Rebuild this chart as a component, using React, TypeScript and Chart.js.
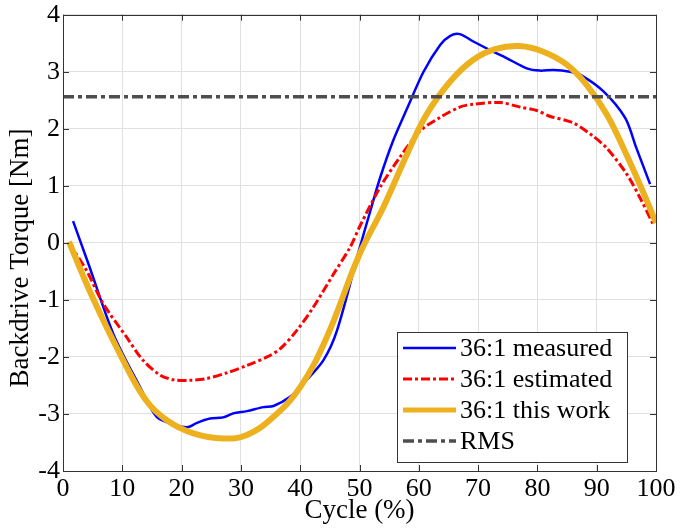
import React, { useEffect, useRef } from "react";
import { Chart, registerables } from "chart.js";

Chart.register(...registerables);

const FONT = "'Liberation Serif', 'Times New Roman', serif";

const xTicks = [0, 10, 20, 30, 40, 50, 60, 70, 80, 90, 100];
const yTicks = [-4, -3, -2, -1, 0, 1, 2, 3, 4];

const measuredX = [1.7, 4.3, 8.5, 13, 15.8, 19.2, 21.1, 22.5, 24.8, 27, 28.7, 31, 33.8, 35.5, 38.3, 40.5, 43.9, 46.2, 50, 51.8, 53.5, 55.7, 58, 60.8, 63.6, 65.3, 66.9, 69.2, 72, 74.8, 78.2, 80.4, 82.7, 85.5, 87.2, 91.1, 94.8, 96.7, 99];
const measuredY = [0.38, -0.37, -1.6, -2.53, -3.05, -3.2, -3.23, -3.16, -3.08, -3.06, -2.99, -2.95, -2.88, -2.86, -2.7, -2.47, -2.06, -1.54, -0.1, 0.55, 1.15, 1.8, 2.35, 3.0, 3.47, 3.63, 3.66, 3.53, 3.38, 3.24, 3.06, 3.02, 3.03, 3.0, 2.95, 2.66, 2.19, 1.66, 1.03];

const estimatedX = [1, 4, 6.8, 10.7, 13.5, 16.4, 18.6, 21.4, 24.2, 27.6, 31, 34.4, 36.6, 39.4, 42.2, 45.6, 48.4, 50.1, 53.5, 56.8, 60.2, 63.6, 66.9, 69.2, 73.7, 77.1, 79.9, 82.1, 86.1, 89.4, 91.7, 95.1, 97.3, 99.5];
const estimatedY = [0.0, -0.49, -1.07, -1.65, -2.06, -2.32, -2.4, -2.41, -2.38, -2.28, -2.15, -2.0, -1.86, -1.54, -1.13, -0.55, -0.08, 0.3, 0.98, 1.5, 1.96, 2.2, 2.38, 2.43, 2.46, 2.38, 2.32, 2.22, 2.1, 1.87, 1.66, 1.2, 0.79, 0.33];

const thisWorkX = [1, 5, 10, 14, 17.5, 22, 27, 31, 35.5, 40, 44.5, 50, 54, 58, 61.3, 65.3, 69.2, 73, 77, 81, 85, 88.3, 91.7, 95, 98, 100];
const thisWorkY = [0.02, -0.96, -2.03, -2.76, -3.11, -3.34, -3.43, -3.37, -3.05, -2.53, -1.65, -0.2, 0.62, 1.55, 2.25, 2.83, 3.21, 3.4, 3.45, 3.35, 3.12, 2.77, 2.25, 1.55, 0.85, 0.35];

const rmsX = [0, 100];
const rmsY = [2.56, 2.56];

const labels = ["36:1 measured", "36:1 estimated", "36:1 this work", "RMS"];
const xTitle = "Cycle (%)";
const yTitle = "Backdrive Torque [Nm]";

const pts = (xs: number[], ys: number[]) => xs.map((x, i) => ({ x, y: ys[i] }));

const boxPlugin = {
  id: "boxTicks",
  afterDatasetsDraw(chart: any) {
    const { ctx, chartArea: a, scales } = chart;
    const xs = scales.x;
    const ys = scales.y;
    ctx.save();
    ctx.strokeStyle = "#333333";
    ctx.lineWidth = 1;
    ctx.beginPath();
    const L = 6;
    xTicks.forEach((t) => {
      const px = Math.round(xs.getPixelForValue(t)) + 0.5;
      ctx.moveTo(px, a.bottom);
      ctx.lineTo(px, a.bottom - L);
      ctx.moveTo(px, a.top);
      ctx.lineTo(px, a.top + L);
    });
    yTicks.forEach((t) => {
      const py = Math.round(ys.getPixelForValue(t)) + 0.5;
      ctx.moveTo(a.left, py);
      ctx.lineTo(a.left + L, py);
      ctx.moveTo(a.right, py);
      ctx.lineTo(a.right - L, py);
    });
    ctx.stroke();
    ctx.strokeRect(Math.round(a.left) + 0.5, Math.round(a.top) + 0.5, Math.round(a.right - a.left), Math.round(a.bottom - a.top));
    ctx.fillStyle = "#000";
    ctx.font = `27px ${FONT}`;
    ctx.textAlign = "center";
    ctx.textBaseline = "middle";
    ctx.translate(21, 258);
    ctx.rotate(-Math.PI / 2);
    ctx.fillText(yTitle, 0, 0);
    ctx.restore();
  },
};

const legendPlugin = {
  id: "insideLegend",
  afterDraw(chart: any) {
    const { ctx } = chart;
    const bx = 397, by = 332, bw = 230, bh = 130;
    ctx.save();
    ctx.fillStyle = "#ffffff";
    ctx.fillRect(bx, by, bw, bh);
    ctx.strokeStyle = "#333333";
    ctx.lineWidth = 1;
    ctx.strokeRect(bx + 0.5, by + 0.5, bw, bh);
    const rowY = [348, 379, 410, 441];
    chart.data.datasets.forEach((ds: any, i: number) => {
      const y = rowY[i];
      ctx.save();
      ctx.strokeStyle = ds.borderColor;
      ctx.lineWidth = Math.min(ds.borderWidth, 5);
      ctx.setLineDash(ds.borderDash || []);
      ctx.beginPath();
      ctx.moveTo(403, y);
      ctx.lineTo(456, y);
      ctx.stroke();
      ctx.restore();
      ctx.fillStyle = "#000000";
      ctx.font = `26px ${FONT}`;
      ctx.textBaseline = "middle";
      ctx.textAlign = "left";
      ctx.fillText(labels[i], 460, y + 1);
    });
    ctx.restore();
  },
};

export default function App() {
  const ref = useRef<HTMLCanvasElement | null>(null);
  useEffect(() => {
    if (!ref.current) return;
    const chart = new Chart(ref.current, {
      type: "line",
      data: {
        datasets: [
          {
            label: labels[0],
            data: pts(measuredX, measuredY),
            borderColor: "#0000ff",
            borderWidth: 2.5,
            pointRadius: 0,
            tension: 0.3,
            order: 4,
          },
          {
            label: labels[1],
            data: pts(estimatedX, estimatedY),
            borderColor: "#ff0000",
            borderWidth: 3,
            borderDash: [9, 3, 3, 3],
            pointRadius: 0,
            tension: 0.3,
            order: 3,
          },
          {
            label: labels[2],
            data: pts(thisWorkX, thisWorkY),
            borderColor: "#edb120",
            borderWidth: 6,
            pointRadius: 0,
            tension: 0.4,
            order: 2,
          },
          {
            label: labels[3],
            data: pts(rmsX, rmsY),
            borderColor: "#4d4d4d",
            borderWidth: 3.5,
            borderDash: [11, 4, 4, 4],
            pointRadius: 0,
            order: 1,
          },
        ],
      },
      options: {
        animation: false,
        responsive: false,
        layout: { padding: { top: 13, right: 36, left: 0, bottom: 0 } },
        plugins: { legend: { display: false }, tooltip: { enabled: false } },
        scales: {
          x: {
            type: "linear",
            min: 0,
            max: 100,
            afterFit: (s: any) => { s.height = 58; },
            afterBuildTicks: (s: any) => { s.ticks = xTicks.map((v) => ({ value: v })); },
            ticks: { font: { family: FONT, size: 26, lineHeight: 0.9 }, color: "#000", padding: 6, maxRotation: 0 },
            grid: { color: "#e0e0e0", drawTicks: false },
            border: { display: false },
            title: { display: true, text: xTitle, font: { family: FONT, size: 27 }, color: "#000", padding: { top: 0, bottom: 2 } },
          },
          y: {
            type: "linear",
            min: -4,
            max: 4,
            afterFit: (s: any) => { s.width = 63; },
            afterBuildTicks: (s: any) => { s.ticks = yTicks.map((v) => ({ value: v })); },
            ticks: { font: { family: FONT, size: 26, lineHeight: 0.9 }, color: "#000", padding: 3 },
            grid: { color: "#e0e0e0", drawTicks: false },
            border: { display: false },
            title: { display: false },
          },
        },
      },
      plugins: [boxPlugin, legendPlugin],
    } as any);
    return () => chart.destroy();
  }, []);
  return (
    <div style={{ position: "absolute", left: 0, top: 0, width: 692, height: 529, background: "#fff" }}>
      <canvas ref={ref} width={692} height={529} style={{ display: "block" }} />
    </div>
  );
}
